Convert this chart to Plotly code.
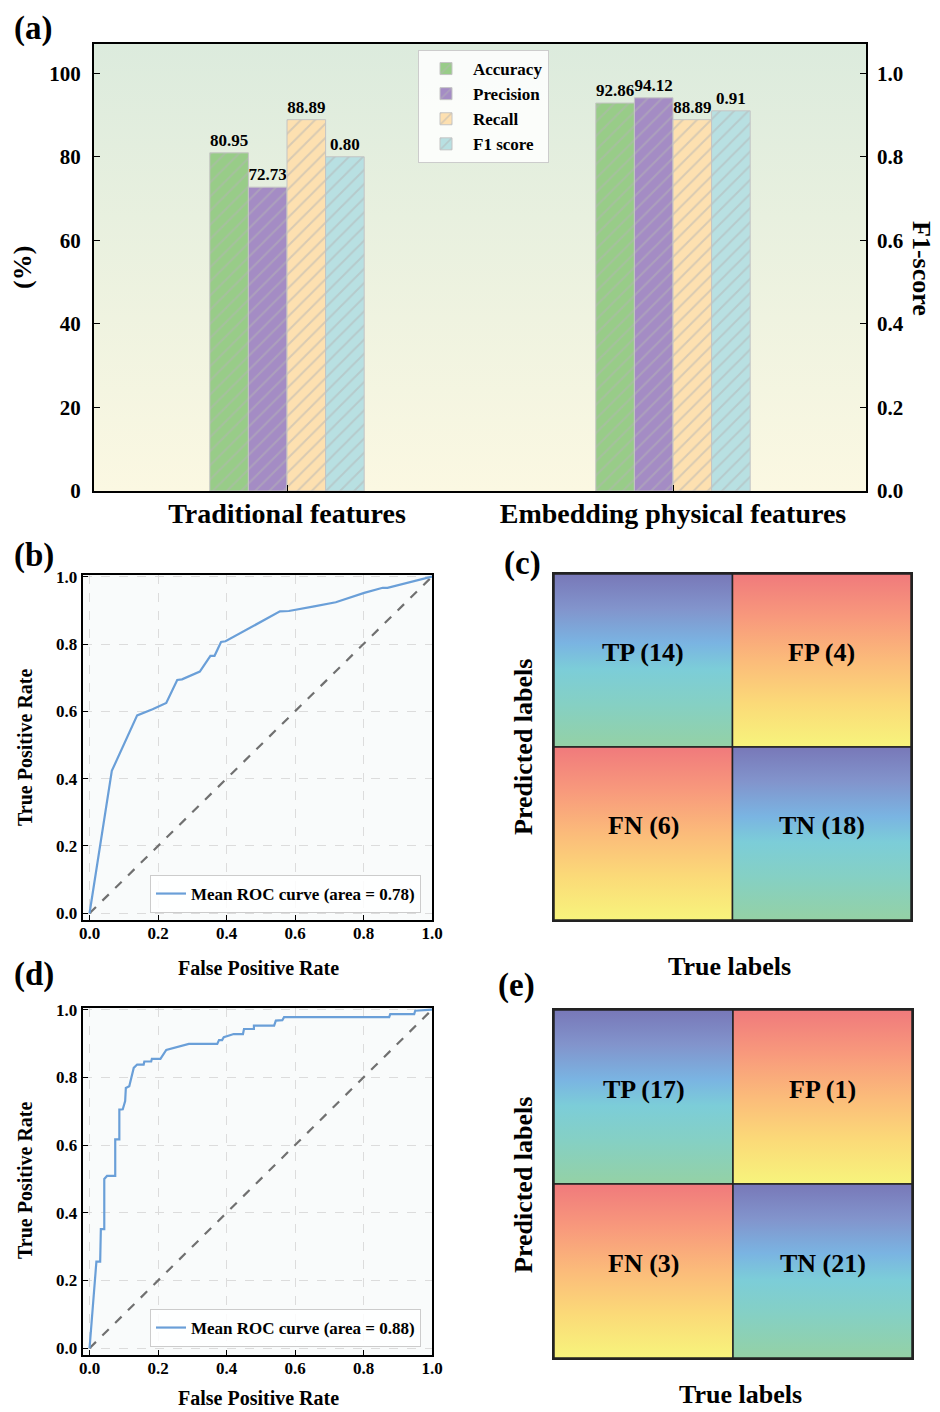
import plotly.graph_objects as go

# ---------------- data ----------------
groups = ["Traditional features", "Embedding physical features"]
metrics = ["Accuracy", "Precision", "Recall", "F1 score"]
accuracy = [80.95, 92.86]
precision = [72.73, 94.12]
recall = [88.89, 88.89]
f1_score = [0.80, 0.91]
pct_ticks = [0, 20, 40, 60, 80, 100]
f1_ticks = [0.0, 0.2, 0.4, 0.6, 0.8, 1.0]
roc_ticks = [0.0, 0.2, 0.4, 0.6, 0.8, 1.0]

roc_b_fpr = [0.0, 0.065, 0.139, 0.184, 0.224, 0.256, 0.270, 0.314, 0.322, 0.353, 0.365,
             0.384, 0.397, 0.556, 0.582, 0.656, 0.719, 0.802, 0.856, 0.870, 1.0]
roc_b_tpr = [0.0, 0.423, 0.588, 0.606, 0.625, 0.693, 0.695, 0.713, 0.718, 0.765, 0.765,
             0.806, 0.808, 0.897, 0.898, 0.912, 0.924, 0.952, 0.967, 0.967, 1.0]
auc_b = 0.78

roc_d_fpr = [0.0, 0.020, 0.031, 0.033, 0.043, 0.043, 0.051, 0.075, 0.075, 0.087, 0.087,
             0.097, 0.104, 0.106, 0.116, 0.129, 0.139, 0.158, 0.160, 0.180, 0.182, 0.207,
             0.224, 0.265, 0.290, 0.373, 0.378, 0.387, 0.392, 0.421, 0.448, 0.451, 0.480,
             0.480, 0.539, 0.544, 0.563, 0.568, 0.875, 0.878, 0.948, 0.951, 1.0]
roc_d_tpr = [0.0, 0.256, 0.256, 0.352, 0.352, 0.500, 0.509, 0.509, 0.617, 0.617, 0.705,
             0.706, 0.730, 0.769, 0.774, 0.828, 0.838, 0.838, 0.847, 0.847, 0.855, 0.855,
             0.881, 0.893, 0.899, 0.899, 0.910, 0.910, 0.919, 0.928, 0.928, 0.943, 0.943,
             0.953, 0.953, 0.968, 0.969, 0.978, 0.978, 0.987, 0.987, 0.997, 1.0]
auc_d = 0.88

cm_labels = ["TP", "FP", "FN", "TN"]
cm_c_counts = [14, 4, 6, 18]
cm_e_counts = [17, 1, 3, 21]

# ---------------- styling ----------------
W, H = 940, 1412
FONT = "Liberation Serif"
bar_colors = ["#98cc88", "#a48cc4", "#fde0b0", "#b8e0e2"]
cool_scale = [[0.0, "#94d1a5"], [0.25, "#85d0c4"], [0.45, "#7ccdd8"], [0.6, "#7ab4e2"],
              [0.8, "#8294cc"], [1.0, "#7878b8"]]
warm_scale = [[0.0, "#f7f47c"], [0.25, "#fbda78"], [0.5, "#fbbb7a"], [0.75, "#f8997c"],
              [1.0, "#f07a7c"]]


def px_x(p):
    return p / W


def px_y(p):
    return 1 - p / H


def bold(size):
    return dict(family=FONT, size=size, color="black", weight="bold")


fig = go.Figure()

# ---------- panel (a) ----------
Y_MAX = 107
X_MIN, X_MAX = -0.5, 1.5
# gradient background on the base subplot (bars live on overlaying axes above it)
fig.add_trace(go.Scatter(
    x=[X_MIN, X_MAX, X_MAX, X_MIN, X_MIN], y=[0, 0, Y_MAX, Y_MAX, 0],
    fill="toself", mode="lines", line=dict(width=0),
    fillgradient=dict(type="vertical", colorscale=[[0, "#fbf8e2"], [1, "#dcebdd"]]),
    hoverinfo="skip", showlegend=False, xaxis="x", yaxis="y"))

series = [accuracy, precision, recall, f1_score]
gx = list(range(len(groups)))
for i, (name, vals, col) in enumerate(zip(metrics, series, bar_colors)):
    fig.add_trace(go.Bar(
        x=gx, y=vals, name=name, width=0.1, offset=-0.2 + 0.1 * i,
        marker=dict(color=col, line=dict(color="#c4c4c4", width=1),
                    pattern=dict(shape="/", fgcolor="#b4b4b4", size=10, solidity=0.2)),
        text=[f"{v:.2f}" for v in vals], textposition="outside",
        textfont=bold(17), cliponaxis=False,
        xaxis="x", yaxis="y7" if name == "F1 score" else "y2",
        legend="legend"))

# ---------- ROC panels ----------
for fpr, tpr, auc, xa, ya, lg in [(roc_b_fpr, roc_b_tpr, auc_b, "x2", "y3", "legend2"),
                                  (roc_d_fpr, roc_d_tpr, auc_d, "x3", "y4", "legend3")]:
    fig.add_trace(go.Scatter(x=[0, 1], y=[0, 1], mode="lines",
                             line=dict(color="#707070", width=2.2, dash="dash"),
                             showlegend=False, xaxis=xa, yaxis=ya, hoverinfo="skip"))
    fig.add_trace(go.Scatter(x=fpr, y=tpr, mode="lines",
                             line=dict(color="#6a9fd8", width=2.2),
                             name=f"Mean ROC curve (area = {auc:.2f})",
                             xaxis=xa, yaxis=ya, legend=lg))

# ---------- confusion matrices ----------
annotations = []
for counts, xa, ya in [(cm_c_counts, "x4", "y5"), (cm_e_counts, "x5", "y6")]:
    for k, (lab, cnt) in enumerate(zip(cm_labels, counts)):
        r, c = divmod(k, 2)
        y0 = 1 - r
        scale = cool_scale if lab in ("TP", "TN") else warm_scale
        fig.add_trace(go.Scatter(
            x=[c, c + 1, c + 1, c, c], y=[y0, y0, y0 + 1, y0 + 1, y0],
            fill="toself", mode="lines", line=dict(color="#222222", width=1.5),
            fillgradient=dict(type="vertical", colorscale=scale),
            hoverinfo="skip", showlegend=False, xaxis=xa, yaxis=ya))
        annotations.append(dict(x=c + 0.5, y=y0 + 0.5, xref=xa, yref=ya,
                                text=f"{lab} ({cnt})", showarrow=False,
                                font=bold(26), yshift=8))


# ---------- text annotations ----------
def ann(x, y, text, size, angle=0):
    annotations.append(dict(x=px_x(x), y=px_y(y), xref="paper", yref="paper",
                            text=text, showarrow=False, font=bold(size),
                            textangle=angle, xanchor="center", yanchor="middle"))


ann(33, 28, "(a)", 33)
ann(22, 268, "(%)", 26, -90)
ann(922, 268, "F1-score", 26, 90)
ann(34, 556, "(b)", 33)
ann(522, 563, "(c)", 33)
ann(34, 975, "(d)", 33)
ann(516, 985, "(e)", 33)
ann(25, 748, "True Positive Rate", 20, -90)
ann(25, 1181, "True Positive Rate", 20, -90)
ann(258, 968, "False Positive Rate", 20)
ann(258, 1398, "False Positive Rate", 20)
ann(523, 747, "Predicted labels", 26, -90)
ann(523, 1185, "Predicted labels", 26, -90)
ann(729, 966, "True labels", 26)
ann(740, 1394, "True labels", 26)

# ---------- axes ----------
frame = dict(showline=True, linecolor="black", linewidth=2, mirror=True,
             zeroline=False, showgrid=False, automargin=False)

layout_axes = dict(
    xaxis=dict(domain=[px_x(94), px_x(866)], range=[X_MIN, X_MAX], anchor="y",
               tickvals=gx, ticktext=groups, tickfont=bold(28), ticks="inside",
               ticklen=6, tickcolor="black", ticklabelstandoff=-4, **frame),
    yaxis=dict(domain=[px_y(491), px_y(44)], range=[0, Y_MAX], anchor="x",
               tickvals=pct_ticks, tickfont=bold(21), ticks="inside", ticklen=6,
               tickcolor="black", ticklabelstandoff=7, **frame),
    yaxis2=dict(overlaying="y", anchor="x", range=[0, Y_MAX], visible=False,
                automargin=False),
    yaxis7=dict(overlaying="y", side="right", anchor="x", range=[0, Y_MAX / 100],
                tickvals=f1_ticks, tickformat=".1f", tickfont=bold(21), ticks="inside",
                ticklen=6, tickcolor="black", ticklabelstandoff=10, showgrid=False,
                zeroline=False, showline=False, automargin=False),
)

roc_common_x = dict(range=[-0.02, 1.0], tickvals=roc_ticks, tickformat=".1f",
                    tickfont=bold(17), ticks="inside", ticklen=5, tickcolor="black",
                    showline=True, linecolor="black", linewidth=2, mirror=True,
                    zeroline=False, showgrid=True, gridcolor="#dcdcdc",
                    griddash="dash", gridwidth=1, automargin=False)
roc_common_y = dict(roc_common_x, range=[-0.02, 1.005])

layout_axes.update(
    xaxis2=dict(roc_common_x, domain=[px_x(82.7), px_x(432)], anchor="y3",
                ticklabelstandoff=-3),
    yaxis3=dict(roc_common_y, domain=[px_y(920), px_y(575)], anchor="x2"),
    xaxis3=dict(roc_common_x, domain=[px_x(82.7), px_x(432)], anchor="y4",
                ticklabelstandoff=-3),
    yaxis4=dict(roc_common_y, domain=[px_y(1355), px_y(1008)], anchor="x3"),
)

cm_axis = dict(range=[0, 2], showticklabels=False, ticks="", showgrid=False,
               zeroline=False, showline=True, linecolor="#222222", linewidth=2,
               mirror=True, automargin=False)
layout_axes.update(
    xaxis4=dict(cm_axis, domain=[px_x(554), px_x(911)], anchor="y5"),
    yaxis5=dict(cm_axis, domain=[px_y(920), px_y(574)], anchor="x4"),
    xaxis5=dict(cm_axis, domain=[px_x(554), px_x(912)], anchor="y6"),
    yaxis6=dict(cm_axis, domain=[px_y(1358), px_y(1010)], anchor="x5"),
)

legend_style = dict(bgcolor="rgba(255,255,255,0.85)", bordercolor="#cccccc",
                    borderwidth=1)

fig.update_layout(
    width=W, height=H, autosize=False,
    margin=dict(l=0, r=0, t=0, b=0, pad=0, autoexpand=False),
    paper_bgcolor="white", plot_bgcolor="#f9fbfb",
    barmode="overlay", font=dict(family=FONT, color="black"),
    legend=dict(x=px_x(418), y=px_y(50), xanchor="left", yanchor="top",
                font=bold(17), tracegroupgap=0, itemwidth=44, **legend_style),
    legend2=dict(x=px_x(421), y=px_y(913), xanchor="right", yanchor="bottom",
                 font=bold(17), **legend_style),
    legend3=dict(x=px_x(421), y=px_y(1347), xanchor="right", yanchor="bottom",
                 font=bold(17), **legend_style),
    annotations=annotations,
    **layout_axes,
)

fig.write_html("out.html",
               config={"displayModeBar": False, "responsive": False},
               post_script="document.body.style.margin='0';"
                           "document.body.style.overflow='hidden';")
